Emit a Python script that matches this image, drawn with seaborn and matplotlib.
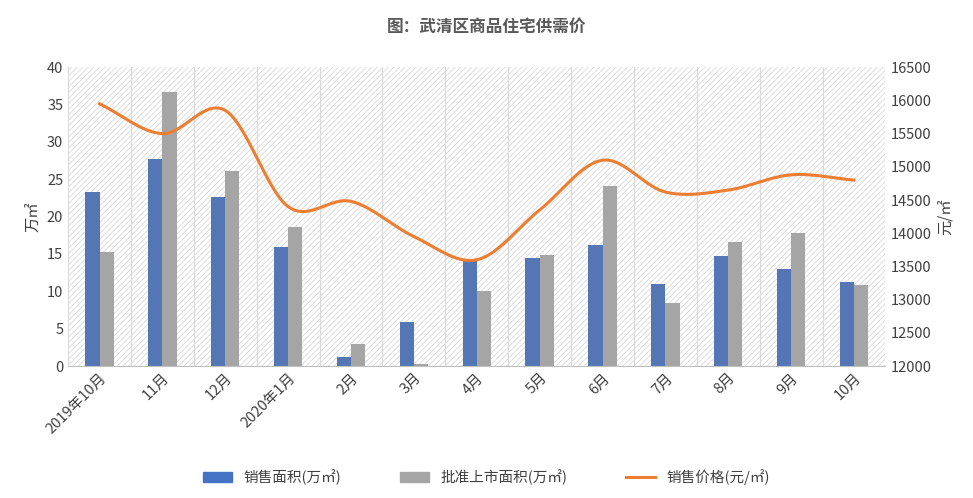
import numpy as np
import pandas as pd
import matplotlib
matplotlib.use('Agg')
import matplotlib.pyplot as plt
import seaborn as sns

plt.rcParams['font.family'] = 'Noto Sans CJK SC'
plt.rcParams['hatch.color'] = '#d9d9d9'
plt.rcParams['hatch.linewidth'] = 0.6

months = ['2019年10月', '11月', '12月', '2020年1月', '2月', '3月', '4月',
          '5月', '6月', '7月', '8月', '9月', '10月']
sales_area = [23.3, 27.7, 22.6, 15.9, 1.2, 5.9, 14.2, 14.4, 16.2, 11.0, 14.7, 13.0, 11.2]
approved_area = [15.2, 36.7, 26.1, 18.6, 3.0, 0.3, 10.1, 14.9, 24.1, 8.5, 16.6, 17.8, 10.8]
price = [15950, 15500, 15850, 14400, 14480, 13950, 13600, 14350, 15100, 14620, 14650, 14880, 14800]

s1, s2, s3 = '销售面积(万㎡)', '批准上市面积(万㎡)', '销售价格(元/㎡)'
df = pd.DataFrame({'month': months * 2,
                   'value': sales_area + approved_area,
                   'series': [s1] * len(months) + [s2] * len(months)})

fig = plt.figure(figsize=(9.73, 4.98), dpi=100)
ax = fig.add_axes([0.07, 0.265, 0.84, 0.6])
ax.add_patch(plt.Rectangle((0, 0), 1, 1, transform=ax.transAxes, facecolor='white',
                           edgecolor='#d9d9d9', hatch='//////', lw=0, zorder=0))
sns.barplot(data=df, x='month', y='value', hue='series', order=months,
            palette=['#4472C4', '#A5A5A5'], width=0.45, gap=0, ax=ax,
            legend=False, zorder=2)
ax.set_xlim(-0.5, len(months) - 0.5)
ax.set_ylim(0, 40)
ax.set_yticks(range(0, 41, 5))
for xb in np.arange(-0.5, len(months), 1):
    ax.axvline(xb, color='#d9d9d9', lw=0.8, zorder=1)
ax.set_xlabel('')
ax.set_ylabel('万㎡', fontsize=11, color='#404040')
ax.set_xticks(range(len(months)))
ax.set_xticklabels(months, rotation=45, ha='right', rotation_mode='anchor')
for sp in ax.spines.values():
    sp.set_visible(False)
ax.spines['bottom'].set_visible(True)
ax.spines['bottom'].set_color('#bfbfbf')
ax.tick_params(length=0, labelsize=10.5, colors='#404040')

ax2 = ax.twinx()
x = np.arange(len(price), dtype=float)
y = np.array(price, dtype=float)
m = np.gradient(y, x)
xs, ys = [], []
for i in range(len(x) - 1):
    t = np.linspace(0, 1, 20)
    h00 = 2 * t**3 - 3 * t**2 + 1
    h10 = t**3 - 2 * t**2 + t
    h01 = -2 * t**3 + 3 * t**2
    h11 = t**3 - t**2
    xs.extend(x[i] + t)
    ys.extend(h00 * y[i] + h10 * m[i] + h01 * y[i + 1] + h11 * m[i + 1])
ax2.plot(xs, ys, color='#ED7D31', lw=2.2)
ax2.set_ylim(12000, 16500)
ax2.set_yticks(range(12000, 16501, 500))
ax2.set_ylabel('元/㎡', fontsize=11, color='#404040')
for sp in ax2.spines.values():
    sp.set_visible(False)
ax2.tick_params(length=0, labelsize=10.5, colors='#404040')

from matplotlib.patches import Patch
from matplotlib.lines import Line2D
handles = [Patch(color='#4472C4'), Patch(color='#A5A5A5'),
           Line2D([], [], color='#ED7D31', lw=2.2)]
fig.legend(handles, [s1, s2, s3], loc='lower center', ncol=3, frameon=False,
           bbox_to_anchor=(0.5, 0.0), fontsize=10.5, columnspacing=4,
           labelcolor='#404040')
fig.suptitle('图：武清区商品住宅供需价', fontsize=12, fontweight='bold',
             color='#595959', y=0.965)
fig.savefig('out.png', dpi=100)
